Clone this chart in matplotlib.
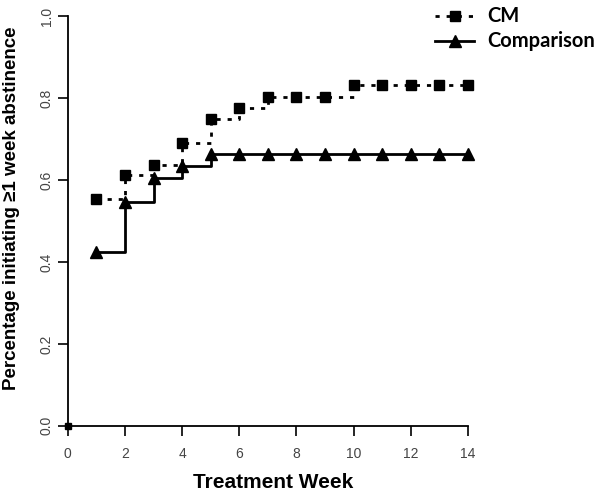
import matplotlib.pyplot as plt

weeks = list(range(1, 15))
cm = [0.554, 0.611, 0.637, 0.691, 0.748, 0.776, 0.803, 0.803, 0.803, 0.831, 0.831, 0.831, 0.831, 0.831]
comparison = [0.425, 0.545, 0.604, 0.635, 0.664, 0.664, 0.664, 0.664, 0.664, 0.664, 0.664, 0.664, 0.664, 0.664]
x_ticks = [0, 2, 4, 6, 8, 10, 12, 14]
y_ticks = [0.0, 0.2, 0.4, 0.6, 0.8, 1.0]

fig = plt.figure(figsize=(6.0, 5.01), dpi=100)
ax = fig.add_axes([0.113, 0.150, 0.667, 0.818])

ax.step(weeks, cm, where="post", color="black", linestyle=(0, (1.5, 2.5)), linewidth=2)
ax.plot(weeks, cm, "s", color="black", markersize=7, clip_on=False)
ax.plot([0], [0], "s", color="black", markersize=5, clip_on=False)
ax.step(weeks, comparison, where="post", color="black", linestyle="-", linewidth=2)
ax.plot(weeks, comparison, "^", color="black", markersize=8, clip_on=False)

ax.set_xlim(0, 14)
ax.set_ylim(0, 1.0)
ax.spines["top"].set_visible(False)
ax.spines["right"].set_visible(False)
ax.spines["left"].set_linewidth(1.3)
ax.spines["bottom"].set_linewidth(1.3)
ax.set_xticks(x_ticks)
ax.set_yticks(y_ticks)
ax.set_xticklabels([str(t) for t in x_ticks], fontfamily="Liberation Sans", fontsize=10, color="#444444")
ax.set_yticklabels([f"{t:.1f}" for t in y_ticks], fontfamily="Liberation Sans", fontsize=10,
                   color="#444444", rotation=90, va="center")
ax.tick_params(axis="x", length=7, width=1.2, pad=8)
ax.tick_params(axis="y", length=7, width=1.2, pad=3)

fig.text(0.455, 0.018, "Treatment Week", ha="center", va="bottom",
         fontfamily="Liberation Sans", fontweight="bold", fontsize=15)
fig.text(0.005, 0.585, "Percentage initiating \u22651 week abstinence", rotation=90,
         ha="left", va="center", fontfamily="Liberation Sans", fontweight="bold", fontsize=13.5)

# legend drawn by hand like the original
fig.lines.append(plt.Line2D([0.725, 0.79], [0.968, 0.968], transform=fig.transFigure,
                            color="black", linestyle=(0, (1.5, 2.5)), linewidth=2))
fig.lines.append(plt.Line2D([0.758], [0.968], transform=fig.transFigure, color="black",
                            marker="s", markersize=7))
fig.lines.append(plt.Line2D([0.725, 0.79], [0.918, 0.918], transform=fig.transFigure,
                            color="black", linestyle="-", linewidth=2))
fig.lines.append(plt.Line2D([0.758], [0.918], transform=fig.transFigure, color="black",
                            marker="^", markersize=8))
fig.text(0.812, 0.968, "CM", ha="left", va="center", fontfamily="Lato", fontweight="bold", fontsize=14.5)
fig.text(0.812, 0.918, "Comparison", ha="left", va="center", fontfamily="Lato", fontweight="bold", fontsize=14.5)

fig.savefig("out.png", dpi=100)
